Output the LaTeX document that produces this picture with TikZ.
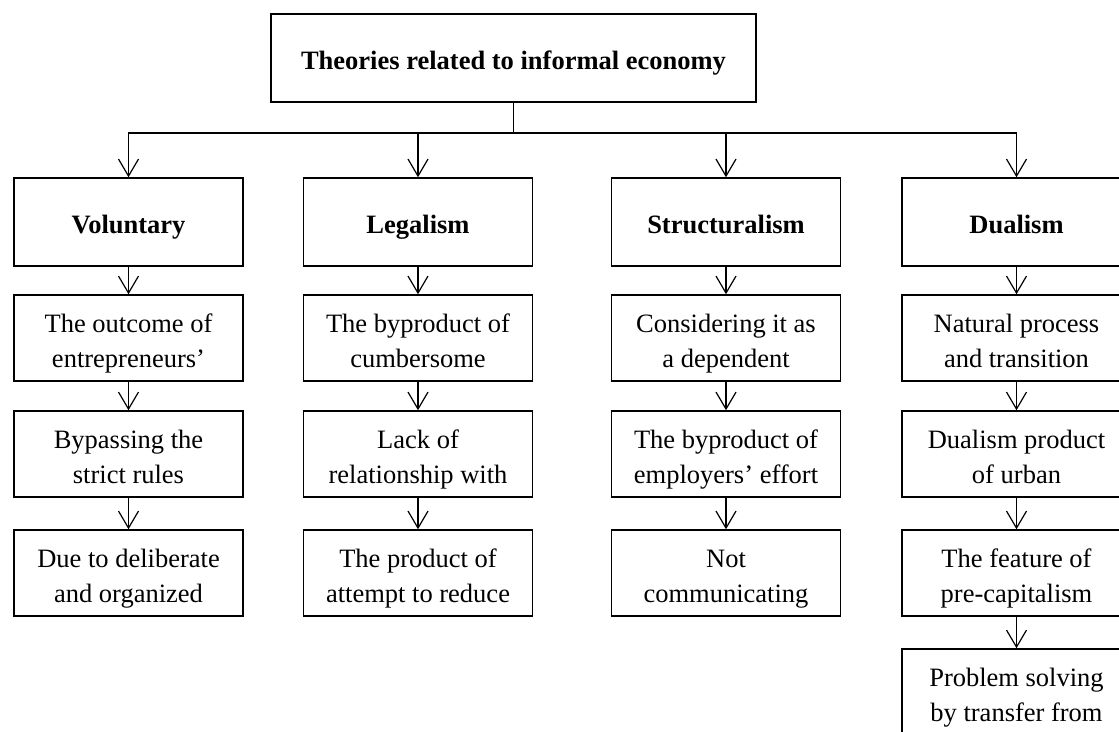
\documentclass[tikz,border=0pt]{standalone}
\usepackage{fontspec}
\setmainfont{Liberation Serif}
\usetikzlibrary{arrows.meta,positioning}
\tikzset{
  box/.style = {draw, rectangle, line width=1.5pt, align=flush center, inner sep=2pt,
  text width=222pt, minimum width=229pt, minimum height=86pt,
  font=\fontsize{26.5}{35}\selectfont,
  execute at begin node={\rule{0pt}{34pt}}, execute at end node=\strut},
  box_h/.style = {box, minimum height=88pt, font=\bfseries\fontsize{26.5}{35}\selectfont,
  execute at begin node={\rule{0pt}{28pt}}},
  box_t/.style = {box_h, text width=478pt, minimum width=485pt}
}

\begin{document}
\begin{tikzpicture}[->,>={Straight Barb[length=17pt,width=20pt]}, x=1pt, y=1pt,
        line width=1.2pt]
    \useasboundingbox (0,0) rectangle (1119,731);
    % root and the four theories
    \node [box_t] (title) at (513.5,673) {Theories related to informal economy};
    \node [box_h] (vol1) at (128.5,509) {Voluntary};
    \node [box_h] (leg1) at (418,509) {Legalism};
    \node [box_h] (str1) at (726,509) {Structuralism};
    \node [box_h] (dua1) at (1016.5,509) {Dualism};
    % voluntary
    \node [box, below=27.5pt of vol1] (vol2) {The outcome of\\entrepreneurs'};
    \node [box, below=28.5pt of vol2] (vol3) {Bypassing the\\strict rules};
    \node [box, below=31.5pt of vol3] (vol4) {Due to deliberate\\and organized};
    % legalism
    \node [box, below=27.5pt of leg1] (leg2) {The byproduct of\\cumbersome};
    \node [box, below=28.5pt of leg2] (leg3) {Lack of\\relationship with};
    \node [box, below=31.5pt of leg3] (leg4) {The product of\\attempt to reduce};
    % structuralism
    \node [box, below=27.5pt of str1] (str2) {Considering it as\\a dependent};
    \node [box, below=28.5pt of str2] (str3) {The byproduct of\\employers' effort};
    \node [box, below=31.5pt of str3] (str4) {Not\\communicating};
    % dualism
    \node [box, below=27.5pt of dua1] (dua2) {Natural process\\and transition};
    \node [box, below=28.5pt of dua2] (dua3) {Dualism product\\of urban};
    \node [box, below=31.5pt of dua3] (dua4) {The feature of\\pre-capitalism};
    \node [box, below=31.5pt of dua4] (dua5) {Problem solving\\by transfer from};
    % connectors
    \coordinate (bus) at (513.5,598);
    \draw [-] (title.south) -- (bus);
    \draw (bus) -| (vol1.north);
    \draw (bus) -| (leg1.north);
    \draw (bus) -| (str1.north);
    \draw (bus) -| (dua1.north);
    \draw (vol1.south) -- (vol2.north);
    \draw (vol2.south) -- (vol3.north);
    \draw (vol3.south) -- (vol4.north);
    \draw (leg1.south) -- (leg2.north);
    \draw (leg2.south) -- (leg3.north);
    \draw (leg3.south) -- (leg4.north);
    \draw (str1.south) -- (str2.north);
    \draw (str2.south) -- (str3.north);
    \draw (str3.south) -- (str4.north);
    \draw (dua1.south) -- (dua2.north);
    \draw (dua2.south) -- (dua3.north);
    \draw (dua3.south) -- (dua4.north);
    \draw (dua4.south) -- (dua5.north);
\end{tikzpicture}
\end{document}
